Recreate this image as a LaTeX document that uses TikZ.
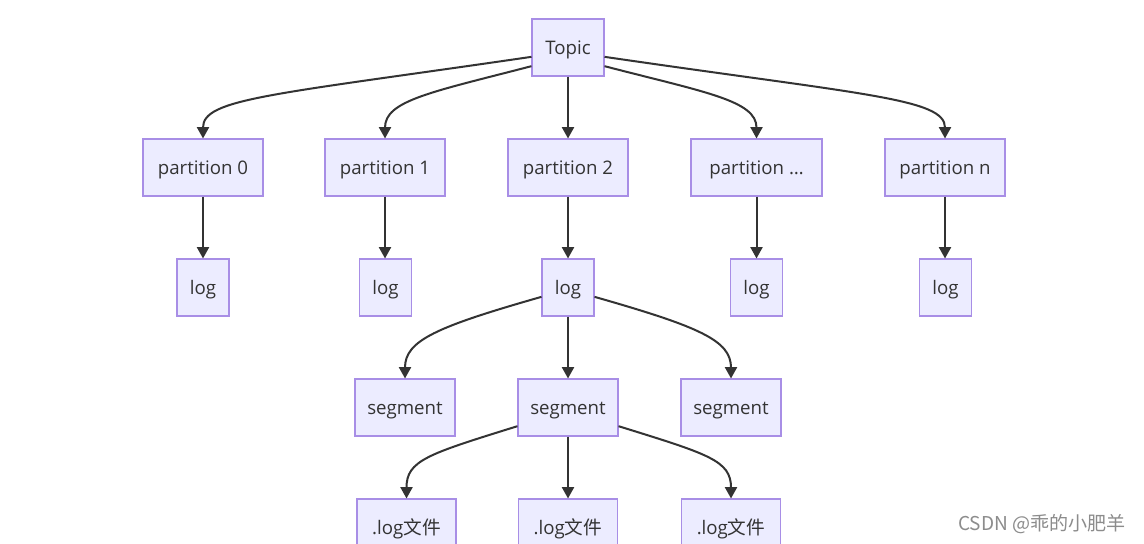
\documentclass[tikz,border=0pt]{standalone}
\usepackage{fontspec}
\setmainfont{Open Sans}
\newfontfamily\cjk{Noto Sans CJK SC}
\usetikzlibrary{arrows.meta}
\definecolor{nodefill}{HTML}{ECECFF}
\definecolor{nodeline}{HTML}{A88EE6}
\definecolor{edgecol}{HTML}{333333}
\definecolor{textcol}{HTML}{333333}
\begin{document}
\begin{tikzpicture}[x=0.75pt,y=-0.75pt,
  box/.style={draw=nodeline,fill=nodefill,line width=0.8pt,inner sep=0pt,
    minimum height=42.75pt,text=textcol,font=\fontsize{14}{16}\selectfont,
    text height=11pt,text depth=1pt},
  edge/.style={draw=edgecol,line width=1.5pt,-{Triangle[length=8.5pt,width=9pt]}}]
\useasboundingbox (0,0) rectangle (1144,543);
\clip (0,0) rectangle (1144,543);
\fill[white] (0,0) rectangle (1144,543);
% nodes
\node[box,minimum width=54pt] (topic) at (568,47.5) {Topic};
\node[box,minimum width=90pt] (p0) at (203,167.5) {partition 0};
\node[box,minimum width=90pt] (p1) at (385,167.5) {partition 1};
\node[box,minimum width=90pt] (p2) at (568,167.5) {partition 2};
\node[box,minimum width=98.25pt] (pd) at (756.5,167.5) {partition …};
\node[box,minimum width=90pt] (pn) at (945,167.5) {partition n};
\node[box,minimum width=39pt] (l0) at (203,287.5) {log};
\node[box,minimum width=39pt] (l1) at (385.5,287.5) {log};
\node[box,minimum width=39pt] (l2) at (568,287.5) {log};
\node[box,minimum width=39pt] (ld) at (756.5,287.5) {log};
\node[box,minimum width=39pt] (ln) at (945.5,287.5) {log};
\node[box,minimum width=75pt] (s1) at (405,407.5) {segment};
\node[box,minimum width=75pt] (s2) at (568,407.5) {segment};
\node[box,minimum width=75pt] (s3) at (731,407.5) {segment};
\node[box,minimum width=74.25pt] (f1) at (406.5,527.5) {.log{\cjk 文件}};
\node[box,minimum width=74.25pt] (f2) at (568,527.5) {.log{\cjk 文件}};
\node[box,minimum width=74.25pt] (f3) at (731,527.5) {.log{\cjk 文件}};
% edges
\draw[edge] ([yshift=-7pt]topic.west) .. controls +(-260,38) and +(0,-40) .. (p0.north);
\draw[edge] ([yshift=-14pt]topic.west) .. controls +(-100,26) and +(0,-38) .. (p1.north);
\draw[edge] (topic.south) -- (p2.north);
\draw[edge] ([yshift=-14pt]topic.east) .. controls +(100,26) and +(0,-38) .. (pd.north);
\draw[edge] ([yshift=-7pt]topic.east) .. controls +(260,38) and +(0,-40) .. (pn.north);
\draw[edge] (p0.south) -- (l0.north);
\draw[edge] (p1.south) -- (p1.south |- l1.north);
\draw[edge] (p2.south) -- (l2.north);
\draw[edge] (pd.south) -- (ld.north);
\draw[edge] (pn.south) -- (pn.south |- ln.north);
\draw[edge] ([yshift=-7pt]l2.west) .. controls +(-105,30) and +(0,-38) .. (s1.north);
\draw[edge] (l2.south) -- (s2.north);
\draw[edge] ([yshift=-7pt]l2.east) .. controls +(105,30) and +(0,-38) .. (s3.north);
\draw[edge] ([yshift=-14pt]s2.west) .. controls +(-90,28) and +(0,-38) .. (f1.north);
\draw[edge] (s2.south) -- (f2.north);
\draw[edge] ([yshift=-14pt]s2.east) .. controls +(90,28) and +(0,-38) .. (f3.north);
% watermark
\node[text=black!45,font=\cjk\fontsize{14.3}{16}\selectfont,inner sep=0pt] (wm) at (1042,524) {CSDN @乖的小肥羊};
\end{tikzpicture}
\end{document}
